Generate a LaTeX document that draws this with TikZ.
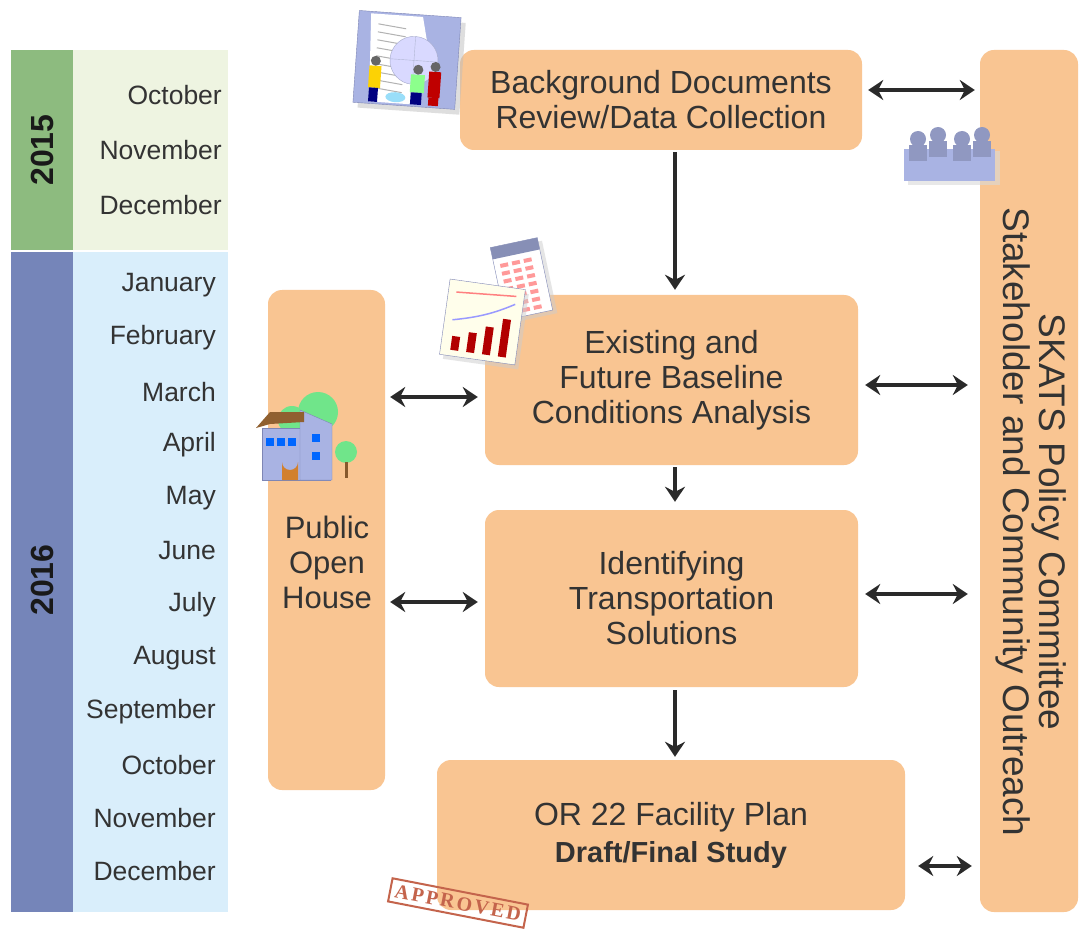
\documentclass[tikz,border=0pt]{standalone}
\usepackage{fontspec}
\setmainfont{Liberation Sans}
\newfontfamily\stampfont[LetterSpace=12]{Liberation Serif}
\usetikzlibrary{arrows.meta,calc}
\definecolor{boxorange}{HTML}{F9C592}
\definecolor{yrgreen}{HTML}{8DBB7F}
\definecolor{yrgreenlt}{HTML}{EEF4E1}
\definecolor{yrblue}{HTML}{7585B9}
\definecolor{yrbluelt}{HTML}{D9EEFB}
\definecolor{inkgray}{HTML}{333333}
\definecolor{arrowgray}{HTML}{2A2A2A}
\definecolor{iconblue}{HTML}{A9B3E3}
\definecolor{iconedge}{HTML}{7E86B5}
\definecolor{stampred}{HTML}{C4644C}
\begin{document}
\begin{tikzpicture}[x=1pt,y=-1pt,
  stage/.style={fill=boxorange, rounded corners=14pt, inner sep=0pt, align=center,
                text=inkgray, font=\fontsize{32}{35}\selectfont},
  month/.style={anchor=east, text=inkgray, font=\fontsize{26.5}{28}\selectfont, inner sep=0pt},
  year/.style={rotate=90, text=black!90, font=\bfseries\fontsize{32}{34}\selectfont, inner sep=0pt},
  dbl/.style={{Stealth[length=15pt,width=20pt,inset=5pt]}-{Stealth[length=15pt,width=20pt,inset=5pt]},
              line width=3.8pt, draw=arrowgray},
  one/.style={-{Stealth[length=15pt,width=20pt,inset=5pt]}, line width=3.8pt, draw=arrowgray}]
\useasboundingbox (0,0) rectangle (1084,941);
\fill[white] (0,0) rectangle (1084,941);

% ---- timeline ----
\fill[yrgreenlt] (73,50) rectangle (228,250);
\fill[yrgreen] (11,50) rectangle (73,250);
\fill[yrbluelt] (73,252) rectangle (228,912);
\fill[yrblue] (11,252) rectangle (73,912);
\node[year] (y2015) at (42,150) {2015};
\node[year] (y2016) at (42,580) {2016};

\node[month] (m1)  at (222,95)  {October};
\node[month] (m2)  at (222,150) {November};
\node[month] (m3)  at (222,205) {December};
\node[month] (m4)  at (216,285) {January};
\node[month] (m5)  at (216,338) {February};
\node[month] (m6)  at (216,392) {March};
\node[month] (m7)  at (216,445) {April};
\node[month] (m8)  at (216,498) {May};
\node[month] (m9)  at (216,551) {June};
\node[month] (m10) at (216,605) {July};
\node[month] (m11) at (216,658) {August};
\node[month] (m12) at (216,712) {September};
\node[month] (m13) at (216,765) {October};
\node[month] (m14) at (216,818) {November};
\node[month] (m15) at (216,871) {December};

% ---- process boxes ----
\node[stage, minimum width=402pt, minimum height=100pt] (bg) at (661,100)
  {Background Documents\\Review/Data Collection};
\node[stage, minimum width=98pt, minimum height=862pt] (skats) at (1029,481) {};
\node[rotate=-90, align=center, text=inkgray, font=\fontsize{37}{36}\selectfont]
  (skatstext) at (1031,522) {SKATS Policy Committee\\Stakeholder and Community Outreach};
\node[stage, minimum width=373pt, minimum height=170pt] (base) at (671.5,380)
  {Existing and\\Future Baseline\\Conditions Analysis};
\node[stage, minimum width=117pt, minimum height=500pt] (open) at (326.5,540) {};
\node[align=center, text=inkgray, font=\fontsize{31}{35}\selectfont] (opentext) at (327,562)
  {Public\\Open\\House};
\node[stage, minimum width=373pt, minimum height=177pt] (solve) at (671.5,598.5)
  {Identifying\\Transportation\\Solutions};
\node[stage, minimum width=468pt, minimum height=150pt] (plan) at (671,835)
  {OR 22 Facility Plan\\[2pt]{\bfseries\fontsize{29}{33}\selectfont Draft/Final Study}};

% ---- connectors ----
\coordinate (hBg) at (0,90);
\coordinate (hBaseR) at (0,385);
\coordinate (hBaseL) at (0,397);
\coordinate (hSolveL) at (0,602);
\coordinate (hSolveR) at (0,594);
\coordinate (hPlan) at (0,866);
\coordinate (vx) at (675,0);

\draw[dbl, shorten <=6pt, shorten >=5pt] (bg.east |- hBg) -- (skats.west |- hBg);
\draw[one, shorten <=2pt, shorten >=5pt] (vx |- bg.south) -- (vx |- base.north);
\draw[dbl, shorten <=7pt, shorten >=12pt] (base.east |- hBaseR) -- (skats.west |- hBaseR);
\draw[dbl, shorten <=5pt, shorten >=7pt] (open.east |- hBaseL) -- (base.west |- hBaseL);
\draw[one, shorten <=2pt, shorten >=8pt] (vx |- base.south) -- (vx |- solve.north);
\draw[dbl, shorten <=5pt, shorten >=7pt] (open.east |- hSolveL) -- (solve.west |- hSolveL);
\draw[dbl, shorten <=7pt, shorten >=12pt] (solve.east |- hSolveR) -- (skats.west |- hSolveR);
\draw[one, shorten <=3pt, shorten >=3pt] (vx |- solve.south) -- (vx |- plan.north);
\draw[dbl, shorten <=13pt, shorten >=8pt] (plan.east |- hPlan) -- (skats.west |- hPlan);

% ---- documents clip art ----
\begin{scope}[shift={(408,60)}, rotate=-4]
  \fill[black!25, opacity=.5] (-47,-41) rectangle (55,51);
  \fill[iconblue, draw=iconedge] (-52,-46) rectangle (50,46);
  \fill[white] (-40,-44) -- (12,-44) -- (20,-10) -- (5,44) -- (-36,44) -- cycle;
  \foreach \k in {-34,-26,...,30} \draw[black!30, line width=1pt] (-32,\k) -- (-4,\k+3);
  \fill[white!85!blue, draw=iconedge!70] (6,0) circle (24);
  \draw[iconedge!60] (-18,0) -- (30,0) (6,-24) -- (6,24);
  \fill[yellow!70!orange] (-38,8) rectangle (-26,30);
  \fill[black!60] (-32,3) circle (5);
  \fill[blue!50!black] (-37,30) rectangle (-28,44);
  \fill[green!45!white] (4,14) rectangle (18,32);
  \fill[black!60] (11,9) circle (5);
  \fill[blue!50!black] (5,32) rectangle (16,44);
  \fill[red!75!black] (22,10) rectangle (34,36);
  \fill[black!60] (28,5) circle (5);
  \fill[red!75!black] (23,36) rectangle (33,44);
  \fill[cyan!40] (-10,38) ellipse (10 and 5);
\end{scope}

% ---- chart clip art ----
\begin{scope}[shift={(520,272)}, rotate=12]
  \fill[black!20, opacity=.5] (-20,-26) rectangle (28,48);
  \fill[white, draw=iconedge] (-24,-30) rectangle (24,44);
  \fill[iconblue!80!black] (-24,-30) rectangle (24,-18);
  \foreach \r in {-12,-4,...,36} \foreach \c in {-18,-6,6} \fill[red!40] (\c,\r) rectangle (\c+8,\r+4);
\end{scope}
\begin{scope}[shift={(483,318)}, rotate=-8]
  \fill[black!20, opacity=.5] (-34,-30) rectangle (42,46);
  \fill[white!92!yellow, draw=iconedge] (-38,-34) rectangle (38,42);
  \draw[blue!40, line width=1.5pt] (-30,6) .. controls (-5,0) and (10,-6) .. (30,-18);
  \draw[red!50, line width=1.5pt] (-30,-22) -- (30,-26);
  \foreach \c/\h in {-28/14,-12/20,4/28,20/38} \fill[red!70!black] (\c,36) rectangle (\c+8,36-\h);
\end{scope}

% ---- committee clip art ----
\begin{scope}[shift={(950,155)}]
  \fill[black!15, opacity=.6] (-42,-4) rectangle (50,30);
  \fill[iconblue] (-46,-6) rectangle (45,26);
  \foreach \px/\py in {-32/-16,-12/-20,12/-16,32/-20}
    {\fill[iconblue!85!black] (\px,\py) circle (8); \fill[iconblue!85!black] (\px-9,\py+6) rectangle (\px+9,\py+22);}
\end{scope}

% ---- house clip art ----
\fill[green!45!white!80!teal] (318,412) circle (20);
\fill[green!45!white!80!teal] (292,420) circle (14);
\fill[green!45!white!80!teal] (346,452) circle (11);
\fill[brown!70!black] (345,462) rectangle (348,478);
\fill[iconblue, draw=iconedge] (262,428) rectangle (330,480);
\fill[iconblue, draw=iconedge] (300,410) -- (332,424) -- (332,480) -- (300,480) -- cycle;
\fill[brown!75!black] (256,428) -- (270,412) -- (304,412) -- (304,422) -- (270,424) -- cycle;
\foreach \wx in {266,277,288} \fill[blue!60!cyan] (\wx,438) rectangle (\wx+8,446);
\fill[blue!60!cyan] (312,434) rectangle (320,442);
\fill[blue!60!cyan] (312,452) rectangle (320,460);
\fill[brown!70!orange] (282,480) -- (282,462) arc (180:0:8) -- (298,480) -- cycle;

% ---- approved stamp ----
\node[rotate=-11, draw=stampred, line width=2pt, inner sep=5pt, text=stampred,
      font=\stampfont\bfseries\fontsize{20}{20}\selectfont] (stamp) at (458,903)
  {APPROVED};
\end{tikzpicture}
\end{document}
